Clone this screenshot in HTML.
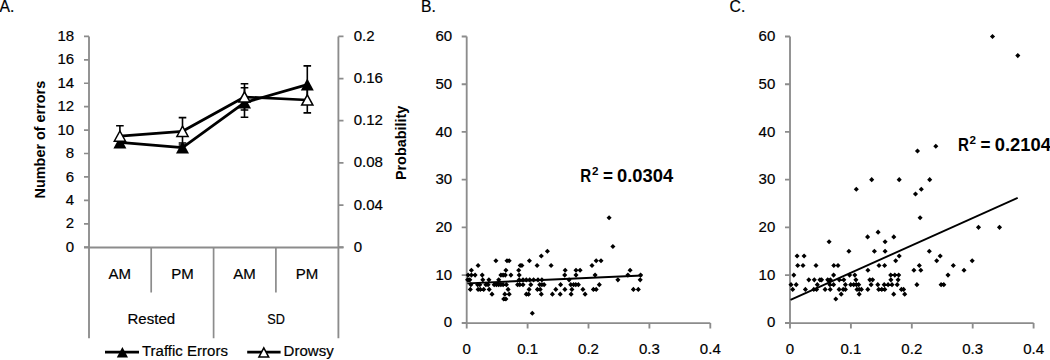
<!DOCTYPE html>
<html><head><meta charset="utf-8"><style>
html,body{margin:0;padding:0;background:#fff;width:1050px;height:360px;overflow:hidden}
svg{display:block}
.t{font-family:"Liberation Sans", sans-serif;font-size:15.5px;fill:#000;stroke:#000;stroke-width:0.2px}
.b{font-family:"Liberation Sans", sans-serif;font-size:14.4px;font-weight:bold;fill:#000}
.r{font-family:"Liberation Sans", sans-serif;font-size:18px;font-weight:bold;fill:#000}
.sup{font-size:10.6px}
.pl{font-size:16.6px}
</style></head><body>
<svg width="1050" height="360" viewBox="0 0 1050 360">
<path d="M89.0 36.4V338.3M338.4 36.4V338.3M84 247.5H343.5" stroke="#8c8c8c" stroke-width="1.85" fill="none"/>
<path d="M84 36.40H89.0M84 59.82H89.0M84 83.24H89.0M84 106.67H89.0M84 130.09H89.0M84 153.51H89.0M84 176.93H89.0M84 200.36H89.0M84 223.78H89.0M84 247.20H89.0M338.4 36.40H343.5M338.4 78.56H343.5M338.4 120.72H343.5M338.4 162.88H343.5M338.4 205.04H343.5M338.4 247.20H343.5M151.2 247.2V292.5M213.6 247.2V338.3M275.9 247.2V292.5" stroke="#8c8c8c" stroke-width="1.7" fill="none"/>
<text transform="translate(74.20 41.00) scale(0.97 1)" class="t" text-anchor="end">18</text>
<text transform="translate(74.20 64.42) scale(0.97 1)" class="t" text-anchor="end">16</text>
<text transform="translate(74.20 87.84) scale(0.97 1)" class="t" text-anchor="end">14</text>
<text transform="translate(74.20 111.27) scale(0.97 1)" class="t" text-anchor="end">12</text>
<text transform="translate(74.20 134.69) scale(0.97 1)" class="t" text-anchor="end">10</text>
<text transform="translate(74.20 158.11) scale(0.97 1)" class="t" text-anchor="end">8</text>
<text transform="translate(74.20 181.53) scale(0.97 1)" class="t" text-anchor="end">6</text>
<text transform="translate(74.20 204.96) scale(0.97 1)" class="t" text-anchor="end">4</text>
<text transform="translate(74.20 228.38) scale(0.97 1)" class="t" text-anchor="end">2</text>
<text transform="translate(74.20 251.80) scale(0.97 1)" class="t" text-anchor="end">0</text>
<text transform="translate(353.70 41.00) scale(0.97 1)" class="t">0.2</text>
<text transform="translate(353.70 83.16) scale(0.97 1)" class="t">0.16</text>
<text transform="translate(353.70 125.32) scale(0.97 1)" class="t">0.12</text>
<text transform="translate(353.70 167.48) scale(0.97 1)" class="t">0.08</text>
<text transform="translate(353.70 209.64) scale(0.97 1)" class="t">0.04</text>
<text transform="translate(353.70 251.80) scale(0.97 1)" class="t">0</text>
<text transform="translate(119.80 278.90) scale(0.97 1)" class="t" text-anchor="middle">AM</text>
<text transform="translate(182.40 278.90) scale(0.97 1)" class="t" text-anchor="middle">PM</text>
<text transform="translate(244.60 278.90) scale(0.97 1)" class="t" text-anchor="middle">AM</text>
<text transform="translate(307.00 278.90) scale(0.97 1)" class="t" text-anchor="middle">PM</text>
<text transform="translate(151.30 324.40) scale(0.97 1)" class="t" text-anchor="middle">Rested</text>
<text transform="translate(276.10 324.40) scale(0.82 1)" class="t" text-anchor="middle">SD</text>
<text transform="translate(45.2 139.6) rotate(-90)" class="b" text-anchor="middle">Number of errors</text>
<text transform="translate(405.6 142.9) rotate(-90)" class="b" text-anchor="middle">Probability</text>
<polyline points="119.9,142.4 182.5,147.6 244.5,102.6 307.3,84.6" fill="none" stroke="#000" stroke-width="2.75" stroke-linejoin="round"/>
<path d="M119.9 137.5V147.0M116.10000000000001 137.5H123.7M116.10000000000001 147.0H123.7" stroke="#000" stroke-width="1.6" fill="none"/>
<path d="M182.5 143.0V152.0M178.7 143.0H186.3M178.7 152.0H186.3" stroke="#000" stroke-width="1.6" fill="none"/>
<path d="M244.5 87.8V117.2M240.7 87.8H248.3M240.7 117.2H248.3" stroke="#000" stroke-width="1.6" fill="none"/>
<path d="M307.3 65.9V103.3M303.5 65.9H311.1M303.5 103.3H311.1" stroke="#000" stroke-width="1.6" fill="none"/>
<path d="M119.90 136.40L126.40 148.40L113.40 148.40Z" fill="#000"/>
<path d="M182.50 141.60L189.00 153.60L176.00 153.60Z" fill="#000"/>
<path d="M244.50 96.60L251.00 108.60L238.00 108.60Z" fill="#000"/>
<path d="M307.30 78.60L313.80 90.60L300.80 90.60Z" fill="#000"/>
<polyline points="119.9,136.1 182.5,131.3 244.5,97.0 307.3,100.0" fill="none" stroke="#000" stroke-width="2.75" stroke-linejoin="round"/>
<path d="M119.9 125.8V146.4M116.10000000000001 125.8H123.7M116.10000000000001 146.4H123.7" stroke="#000" stroke-width="1.6" fill="none"/>
<path d="M182.5 117.6V145.0M178.7 117.6H186.3M178.7 145.0H186.3" stroke="#000" stroke-width="1.6" fill="none"/>
<path d="M244.5 83.8V110.0M240.7 83.8H248.3M240.7 110.0H248.3" stroke="#000" stroke-width="1.6" fill="none"/>
<path d="M307.3 87.2V112.9M303.5 87.2H311.1M303.5 112.9H311.1" stroke="#000" stroke-width="1.6" fill="none"/>
<path d="M119.90 131.00L125.50 141.20L114.30 141.20Z" fill="#fff" stroke="#000" stroke-width="1.5" stroke-linejoin="miter"/>
<path d="M182.50 126.20L188.10 136.40L176.90 136.40Z" fill="#fff" stroke="#000" stroke-width="1.5" stroke-linejoin="miter"/>
<path d="M244.50 91.90L250.10 102.10L238.90 102.10Z" fill="#fff" stroke="#000" stroke-width="1.5" stroke-linejoin="miter"/>
<path d="M307.30 94.90L312.90 105.10L301.70 105.10Z" fill="#fff" stroke="#000" stroke-width="1.5" stroke-linejoin="miter"/>
<path d="M105 352.1H139M247.2 352.1H280.6" stroke="#000" stroke-width="2.8"/>
<path d="M122.40 347.00L128.00 357.60L116.80 357.60Z" fill="#000"/>
<path d="M263.80 347.90L268.70 357.10L258.90 357.10Z" fill="#fff" stroke="#000" stroke-width="1.5" stroke-linejoin="miter"/>
<text transform="translate(142.00 356.40) scale(0.97 1)" class="t">Traffic Errors</text>
<text transform="translate(283.60 356.40) scale(0.97 1)" class="t">Drowsy</text>
<text transform="translate(-0.60 11.80) scale(0.95 1)" class="t pl">A.</text>
<text transform="translate(421.00 11.90) scale(0.95 1)" class="t pl">B.</text>
<text transform="translate(729.60 12.20) scale(0.95 1)" class="t pl">C.</text>
<path d="M466.7 36.5V328.4M461.7 323.05H710.3M461.7 36.50H466.7M461.7 84.22H466.7M461.7 131.93H466.7M461.7 179.65H466.7M461.7 227.37H466.7M461.7 275.08H466.7M461.7 322.80H466.7M527.60 323.05V328.4M588.50 323.05V328.4M649.40 323.05V328.4M710.30 323.05V328.4" stroke="#8c8c8c" stroke-width="1.85" fill="none"/>
<text transform="translate(452.20 41.10) scale(0.97 1)" class="t" text-anchor="end">60</text>
<text transform="translate(452.20 88.82) scale(0.97 1)" class="t" text-anchor="end">50</text>
<text transform="translate(452.20 136.53) scale(0.97 1)" class="t" text-anchor="end">40</text>
<text transform="translate(452.20 184.25) scale(0.97 1)" class="t" text-anchor="end">30</text>
<text transform="translate(452.20 231.97) scale(0.97 1)" class="t" text-anchor="end">20</text>
<text transform="translate(452.20 279.68) scale(0.97 1)" class="t" text-anchor="end">10</text>
<text transform="translate(452.20 327.40) scale(0.97 1)" class="t" text-anchor="end">0</text>
<text transform="translate(466.70 354.40) scale(0.97 1)" class="t" text-anchor="middle">0</text>
<text transform="translate(527.60 354.40) scale(0.97 1)" class="t" text-anchor="middle">0.1</text>
<text transform="translate(588.50 354.40) scale(0.97 1)" class="t" text-anchor="middle">0.2</text>
<text transform="translate(649.40 354.40) scale(0.97 1)" class="t" text-anchor="middle">0.3</text>
<text transform="translate(710.30 354.40) scale(0.97 1)" class="t" text-anchor="middle">0.4</text>
<path d="M609.1 215.27l2.55 2.55l-2.55 2.55l-2.55 -2.55zM612.9 243.90l2.55 2.55l-2.55 2.55l-2.55 -2.55zM547.4 248.68l2.55 2.55l-2.55 2.55l-2.55 -2.55zM541.3 253.45l2.55 2.55l-2.55 2.55l-2.55 -2.55zM495.9 258.22l2.55 2.55l-2.55 2.55l-2.55 -2.55zM507.0 258.22l2.55 2.55l-2.55 2.55l-2.55 -2.55zM509.2 258.22l2.55 2.55l-2.55 2.55l-2.55 -2.55zM529.4 258.22l2.55 2.55l-2.55 2.55l-2.55 -2.55zM596.2 258.22l2.55 2.55l-2.55 2.55l-2.55 -2.55zM601.0 258.22l2.55 2.55l-2.55 2.55l-2.55 -2.55zM478.1 262.99l2.55 2.55l-2.55 2.55l-2.55 -2.55zM520.2 262.99l2.55 2.55l-2.55 2.55l-2.55 -2.55zM521.9 262.99l2.55 2.55l-2.55 2.55l-2.55 -2.55zM537.1 262.99l2.55 2.55l-2.55 2.55l-2.55 -2.55zM551.1 262.99l2.55 2.55l-2.55 2.55l-2.55 -2.55zM592.0 262.99l2.55 2.55l-2.55 2.55l-2.55 -2.55zM471.4 267.76l2.55 2.55l-2.55 2.55l-2.55 -2.55zM505.9 267.76l2.55 2.55l-2.55 2.55l-2.55 -2.55zM518.7 267.76l2.55 2.55l-2.55 2.55l-2.55 -2.55zM565.2 267.76l2.55 2.55l-2.55 2.55l-2.55 -2.55zM576.0 267.76l2.55 2.55l-2.55 2.55l-2.55 -2.55zM580.1 267.76l2.55 2.55l-2.55 2.55l-2.55 -2.55zM630.1 267.76l2.55 2.55l-2.55 2.55l-2.55 -2.55zM468.1 272.53l2.55 2.55l-2.55 2.55l-2.55 -2.55zM471.4 272.53l2.55 2.55l-2.55 2.55l-2.55 -2.55zM475.1 272.53l2.55 2.55l-2.55 2.55l-2.55 -2.55zM482.2 272.53l2.55 2.55l-2.55 2.55l-2.55 -2.55zM500.9 272.53l2.55 2.55l-2.55 2.55l-2.55 -2.55zM503.1 272.53l2.55 2.55l-2.55 2.55l-2.55 -2.55zM505.3 272.53l2.55 2.55l-2.55 2.55l-2.55 -2.55zM510.9 272.53l2.55 2.55l-2.55 2.55l-2.55 -2.55zM519.2 272.53l2.55 2.55l-2.55 2.55l-2.55 -2.55zM564.7 272.53l2.55 2.55l-2.55 2.55l-2.55 -2.55zM576.0 272.53l2.55 2.55l-2.55 2.55l-2.55 -2.55zM595.1 272.53l2.55 2.55l-2.55 2.55l-2.55 -2.55zM627.9 272.53l2.55 2.55l-2.55 2.55l-2.55 -2.55zM640.6 272.53l2.55 2.55l-2.55 2.55l-2.55 -2.55zM467.6 277.31l2.55 2.55l-2.55 2.55l-2.55 -2.55zM469.8 277.31l2.55 2.55l-2.55 2.55l-2.55 -2.55zM482.8 277.31l2.55 2.55l-2.55 2.55l-2.55 -2.55zM488.9 277.31l2.55 2.55l-2.55 2.55l-2.55 -2.55zM498.7 277.31l2.55 2.55l-2.55 2.55l-2.55 -2.55zM519.2 277.31l2.55 2.55l-2.55 2.55l-2.55 -2.55zM523.0 277.31l2.55 2.55l-2.55 2.55l-2.55 -2.55zM526.3 277.31l2.55 2.55l-2.55 2.55l-2.55 -2.55zM529.7 277.31l2.55 2.55l-2.55 2.55l-2.55 -2.55zM533.6 277.31l2.55 2.55l-2.55 2.55l-2.55 -2.55zM538.0 277.31l2.55 2.55l-2.55 2.55l-2.55 -2.55zM541.9 277.31l2.55 2.55l-2.55 2.55l-2.55 -2.55zM569.1 277.31l2.55 2.55l-2.55 2.55l-2.55 -2.55zM617.9 277.31l2.55 2.55l-2.55 2.55l-2.55 -2.55zM640.2 277.31l2.55 2.55l-2.55 2.55l-2.55 -2.55zM470.9 282.08l2.55 2.55l-2.55 2.55l-2.55 -2.55zM477.6 282.08l2.55 2.55l-2.55 2.55l-2.55 -2.55zM479.8 282.08l2.55 2.55l-2.55 2.55l-2.55 -2.55zM485.9 282.08l2.55 2.55l-2.55 2.55l-2.55 -2.55zM488.1 282.08l2.55 2.55l-2.55 2.55l-2.55 -2.55zM494.2 282.08l2.55 2.55l-2.55 2.55l-2.55 -2.55zM496.4 282.08l2.55 2.55l-2.55 2.55l-2.55 -2.55zM498.7 282.08l2.55 2.55l-2.55 2.55l-2.55 -2.55zM500.9 282.08l2.55 2.55l-2.55 2.55l-2.55 -2.55zM503.1 282.08l2.55 2.55l-2.55 2.55l-2.55 -2.55zM506.4 282.08l2.55 2.55l-2.55 2.55l-2.55 -2.55zM517.6 282.08l2.55 2.55l-2.55 2.55l-2.55 -2.55zM519.8 282.08l2.55 2.55l-2.55 2.55l-2.55 -2.55zM523.0 282.08l2.55 2.55l-2.55 2.55l-2.55 -2.55zM530.8 282.08l2.55 2.55l-2.55 2.55l-2.55 -2.55zM539.7 282.08l2.55 2.55l-2.55 2.55l-2.55 -2.55zM541.9 282.08l2.55 2.55l-2.55 2.55l-2.55 -2.55zM544.1 282.08l2.55 2.55l-2.55 2.55l-2.55 -2.55zM560.6 282.08l2.55 2.55l-2.55 2.55l-2.55 -2.55zM570.8 282.08l2.55 2.55l-2.55 2.55l-2.55 -2.55zM573.6 282.08l2.55 2.55l-2.55 2.55l-2.55 -2.55zM575.8 282.08l2.55 2.55l-2.55 2.55l-2.55 -2.55zM578.4 282.08l2.55 2.55l-2.55 2.55l-2.55 -2.55zM599.3 282.08l2.55 2.55l-2.55 2.55l-2.55 -2.55zM470.3 286.85l2.55 2.55l-2.55 2.55l-2.55 -2.55zM478.1 286.85l2.55 2.55l-2.55 2.55l-2.55 -2.55zM480.3 286.85l2.55 2.55l-2.55 2.55l-2.55 -2.55zM483.7 286.85l2.55 2.55l-2.55 2.55l-2.55 -2.55zM489.2 286.85l2.55 2.55l-2.55 2.55l-2.55 -2.55zM508.1 286.85l2.55 2.55l-2.55 2.55l-2.55 -2.55zM529.1 286.85l2.55 2.55l-2.55 2.55l-2.55 -2.55zM537.4 286.85l2.55 2.55l-2.55 2.55l-2.55 -2.55zM540.2 286.85l2.55 2.55l-2.55 2.55l-2.55 -2.55zM555.8 286.85l2.55 2.55l-2.55 2.55l-2.55 -2.55zM564.9 286.85l2.55 2.55l-2.55 2.55l-2.55 -2.55zM571.9 286.85l2.55 2.55l-2.55 2.55l-2.55 -2.55zM582.9 286.85l2.55 2.55l-2.55 2.55l-2.55 -2.55zM593.4 286.85l2.55 2.55l-2.55 2.55l-2.55 -2.55zM596.2 286.85l2.55 2.55l-2.55 2.55l-2.55 -2.55zM633.4 286.85l2.55 2.55l-2.55 2.55l-2.55 -2.55zM638.3 286.85l2.55 2.55l-2.55 2.55l-2.55 -2.55zM492.0 291.62l2.55 2.55l-2.55 2.55l-2.55 -2.55zM504.8 291.62l2.55 2.55l-2.55 2.55l-2.55 -2.55zM509.2 291.62l2.55 2.55l-2.55 2.55l-2.55 -2.55zM526.3 291.62l2.55 2.55l-2.55 2.55l-2.55 -2.55zM528.6 291.62l2.55 2.55l-2.55 2.55l-2.55 -2.55zM541.3 291.62l2.55 2.55l-2.55 2.55l-2.55 -2.55zM552.4 291.62l2.55 2.55l-2.55 2.55l-2.55 -2.55zM560.2 291.62l2.55 2.55l-2.55 2.55l-2.55 -2.55zM571.1 291.62l2.55 2.55l-2.55 2.55l-2.55 -2.55zM585.1 291.62l2.55 2.55l-2.55 2.55l-2.55 -2.55zM503.7 296.39l2.55 2.55l-2.55 2.55l-2.55 -2.55zM505.9 296.39l2.55 2.55l-2.55 2.55l-2.55 -2.55zM532.3 310.71l2.55 2.55l-2.55 2.55l-2.55 -2.55z" fill="#000"/>
<path d="M467.3 283.4L642.2 275.5" stroke="#000" stroke-width="1.9"/>
<text transform="translate(580.3 182.1) scale(0.84 1.02)" class="r">R</text>
<text transform="translate(591.9 174.5) scale(1.1 1)" class="r sup">2</text>
<text transform="translate(602.9 182.1) scale(0.95 1)" class="r">=</text>
<text transform="translate(617.0 182.1) scale(1.02 1.02)" class="r">0.0304</text>
<path d="M790.0 36.5V328.4M785.0 323.05H1033.6M785.0 36.50H790.0M785.0 84.22H790.0M785.0 131.93H790.0M785.0 179.65H790.0M785.0 227.37H790.0M785.0 275.08H790.0M785.0 322.80H790.0M850.90 323.05V328.4M911.80 323.05V328.4M972.70 323.05V328.4M1033.60 323.05V328.4" stroke="#8c8c8c" stroke-width="1.85" fill="none"/>
<text transform="translate(775.30 41.10) scale(0.97 1)" class="t" text-anchor="end">60</text>
<text transform="translate(775.30 88.82) scale(0.97 1)" class="t" text-anchor="end">50</text>
<text transform="translate(775.30 136.53) scale(0.97 1)" class="t" text-anchor="end">40</text>
<text transform="translate(775.30 184.25) scale(0.97 1)" class="t" text-anchor="end">30</text>
<text transform="translate(775.30 231.97) scale(0.97 1)" class="t" text-anchor="end">20</text>
<text transform="translate(775.30 279.68) scale(0.97 1)" class="t" text-anchor="end">10</text>
<text transform="translate(775.30 327.40) scale(0.97 1)" class="t" text-anchor="end">0</text>
<text transform="translate(790.00 354.40) scale(0.97 1)" class="t" text-anchor="middle">0</text>
<text transform="translate(850.90 354.40) scale(0.97 1)" class="t" text-anchor="middle">0.1</text>
<text transform="translate(911.80 354.40) scale(0.97 1)" class="t" text-anchor="middle">0.2</text>
<text transform="translate(972.70 354.40) scale(0.97 1)" class="t" text-anchor="middle">0.3</text>
<text transform="translate(1033.60 354.40) scale(0.97 1)" class="t" text-anchor="middle">0.4</text>
<path d="M992.5 33.95l2.55 2.55l-2.55 2.55l-2.55 -2.55zM1017.8 53.04l2.55 2.55l-2.55 2.55l-2.55 -2.55zM935.8 143.70l2.55 2.55l-2.55 2.55l-2.55 -2.55zM917.5 148.47l2.55 2.55l-2.55 2.55l-2.55 -2.55zM871.7 177.10l2.55 2.55l-2.55 2.55l-2.55 -2.55zM899.2 177.10l2.55 2.55l-2.55 2.55l-2.55 -2.55zM929.7 177.10l2.55 2.55l-2.55 2.55l-2.55 -2.55zM856.3 186.64l2.55 2.55l-2.55 2.55l-2.55 -2.55zM921.3 186.64l2.55 2.55l-2.55 2.55l-2.55 -2.55zM915.5 191.41l2.55 2.55l-2.55 2.55l-2.55 -2.55zM920.1 215.27l2.55 2.55l-2.55 2.55l-2.55 -2.55zM978.5 224.82l2.55 2.55l-2.55 2.55l-2.55 -2.55zM999.5 224.82l2.55 2.55l-2.55 2.55l-2.55 -2.55zM878.1 229.59l2.55 2.55l-2.55 2.55l-2.55 -2.55zM867.6 234.36l2.55 2.55l-2.55 2.55l-2.55 -2.55zM893.8 234.36l2.55 2.55l-2.55 2.55l-2.55 -2.55zM829.1 239.13l2.55 2.55l-2.55 2.55l-2.55 -2.55zM885.1 239.13l2.55 2.55l-2.55 2.55l-2.55 -2.55zM848.9 248.68l2.55 2.55l-2.55 2.55l-2.55 -2.55zM874.4 248.68l2.55 2.55l-2.55 2.55l-2.55 -2.55zM885.1 248.68l2.55 2.55l-2.55 2.55l-2.55 -2.55zM929.3 248.68l2.55 2.55l-2.55 2.55l-2.55 -2.55zM797.1 253.45l2.55 2.55l-2.55 2.55l-2.55 -2.55zM804.1 253.45l2.55 2.55l-2.55 2.55l-2.55 -2.55zM899.2 253.45l2.55 2.55l-2.55 2.55l-2.55 -2.55zM940.2 253.45l2.55 2.55l-2.55 2.55l-2.55 -2.55zM895.7 258.22l2.55 2.55l-2.55 2.55l-2.55 -2.55zM936.7 258.22l2.55 2.55l-2.55 2.55l-2.55 -2.55zM972.2 258.22l2.55 2.55l-2.55 2.55l-2.55 -2.55zM797.7 262.99l2.55 2.55l-2.55 2.55l-2.55 -2.55zM803.0 262.99l2.55 2.55l-2.55 2.55l-2.55 -2.55zM816.0 262.99l2.55 2.55l-2.55 2.55l-2.55 -2.55zM833.8 262.99l2.55 2.55l-2.55 2.55l-2.55 -2.55zM838.0 262.99l2.55 2.55l-2.55 2.55l-2.55 -2.55zM879.0 262.99l2.55 2.55l-2.55 2.55l-2.55 -2.55zM884.6 262.99l2.55 2.55l-2.55 2.55l-2.55 -2.55zM919.3 262.99l2.55 2.55l-2.55 2.55l-2.55 -2.55zM953.3 262.99l2.55 2.55l-2.55 2.55l-2.55 -2.55zM867.9 267.76l2.55 2.55l-2.55 2.55l-2.55 -2.55zM913.9 267.76l2.55 2.55l-2.55 2.55l-2.55 -2.55zM920.8 267.76l2.55 2.55l-2.55 2.55l-2.55 -2.55zM964.0 267.76l2.55 2.55l-2.55 2.55l-2.55 -2.55zM793.8 272.53l2.55 2.55l-2.55 2.55l-2.55 -2.55zM833.6 272.53l2.55 2.55l-2.55 2.55l-2.55 -2.55zM849.6 272.53l2.55 2.55l-2.55 2.55l-2.55 -2.55zM854.8 272.53l2.55 2.55l-2.55 2.55l-2.55 -2.55zM890.7 272.53l2.55 2.55l-2.55 2.55l-2.55 -2.55zM894.8 272.53l2.55 2.55l-2.55 2.55l-2.55 -2.55zM898.7 272.53l2.55 2.55l-2.55 2.55l-2.55 -2.55zM948.0 272.53l2.55 2.55l-2.55 2.55l-2.55 -2.55zM808.8 277.31l2.55 2.55l-2.55 2.55l-2.55 -2.55zM814.3 277.31l2.55 2.55l-2.55 2.55l-2.55 -2.55zM819.9 277.31l2.55 2.55l-2.55 2.55l-2.55 -2.55zM821.6 277.31l2.55 2.55l-2.55 2.55l-2.55 -2.55zM827.7 277.31l2.55 2.55l-2.55 2.55l-2.55 -2.55zM830.4 277.31l2.55 2.55l-2.55 2.55l-2.55 -2.55zM839.3 277.31l2.55 2.55l-2.55 2.55l-2.55 -2.55zM843.8 277.31l2.55 2.55l-2.55 2.55l-2.55 -2.55zM855.9 277.31l2.55 2.55l-2.55 2.55l-2.55 -2.55zM869.8 277.31l2.55 2.55l-2.55 2.55l-2.55 -2.55zM872.6 277.31l2.55 2.55l-2.55 2.55l-2.55 -2.55zM890.9 277.31l2.55 2.55l-2.55 2.55l-2.55 -2.55zM898.1 277.31l2.55 2.55l-2.55 2.55l-2.55 -2.55zM791.0 282.08l2.55 2.55l-2.55 2.55l-2.55 -2.55zM796.2 282.08l2.55 2.55l-2.55 2.55l-2.55 -2.55zM817.3 282.08l2.55 2.55l-2.55 2.55l-2.55 -2.55zM829.9 282.08l2.55 2.55l-2.55 2.55l-2.55 -2.55zM833.6 282.08l2.55 2.55l-2.55 2.55l-2.55 -2.55zM845.4 282.08l2.55 2.55l-2.55 2.55l-2.55 -2.55zM850.7 282.08l2.55 2.55l-2.55 2.55l-2.55 -2.55zM853.7 282.08l2.55 2.55l-2.55 2.55l-2.55 -2.55zM856.4 282.08l2.55 2.55l-2.55 2.55l-2.55 -2.55zM858.7 282.08l2.55 2.55l-2.55 2.55l-2.55 -2.55zM871.1 282.08l2.55 2.55l-2.55 2.55l-2.55 -2.55zM877.8 282.08l2.55 2.55l-2.55 2.55l-2.55 -2.55zM884.2 282.08l2.55 2.55l-2.55 2.55l-2.55 -2.55zM888.1 282.08l2.55 2.55l-2.55 2.55l-2.55 -2.55zM892.0 282.08l2.55 2.55l-2.55 2.55l-2.55 -2.55zM897.2 282.08l2.55 2.55l-2.55 2.55l-2.55 -2.55zM916.9 282.08l2.55 2.55l-2.55 2.55l-2.55 -2.55zM941.1 282.08l2.55 2.55l-2.55 2.55l-2.55 -2.55zM943.8 282.08l2.55 2.55l-2.55 2.55l-2.55 -2.55zM792.7 286.85l2.55 2.55l-2.55 2.55l-2.55 -2.55zM805.4 286.85l2.55 2.55l-2.55 2.55l-2.55 -2.55zM813.8 286.85l2.55 2.55l-2.55 2.55l-2.55 -2.55zM816.6 286.85l2.55 2.55l-2.55 2.55l-2.55 -2.55zM825.1 286.85l2.55 2.55l-2.55 2.55l-2.55 -2.55zM830.2 286.85l2.55 2.55l-2.55 2.55l-2.55 -2.55zM839.1 286.85l2.55 2.55l-2.55 2.55l-2.55 -2.55zM843.2 286.85l2.55 2.55l-2.55 2.55l-2.55 -2.55zM845.4 286.85l2.55 2.55l-2.55 2.55l-2.55 -2.55zM857.0 286.85l2.55 2.55l-2.55 2.55l-2.55 -2.55zM859.2 286.85l2.55 2.55l-2.55 2.55l-2.55 -2.55zM861.4 286.85l2.55 2.55l-2.55 2.55l-2.55 -2.55zM867.8 286.85l2.55 2.55l-2.55 2.55l-2.55 -2.55zM878.7 286.85l2.55 2.55l-2.55 2.55l-2.55 -2.55zM881.8 286.85l2.55 2.55l-2.55 2.55l-2.55 -2.55zM884.8 286.85l2.55 2.55l-2.55 2.55l-2.55 -2.55zM901.4 286.85l2.55 2.55l-2.55 2.55l-2.55 -2.55zM903.6 286.85l2.55 2.55l-2.55 2.55l-2.55 -2.55zM841.2 291.62l2.55 2.55l-2.55 2.55l-2.55 -2.55zM859.2 291.62l2.55 2.55l-2.55 2.55l-2.55 -2.55zM893.7 291.62l2.55 2.55l-2.55 2.55l-2.55 -2.55zM904.7 291.62l2.55 2.55l-2.55 2.55l-2.55 -2.55zM835.8 296.39l2.55 2.55l-2.55 2.55l-2.55 -2.55z" fill="#000"/>
<path d="M790.5 299.9L1017.7 197.8" stroke="#000" stroke-width="1.9"/>
<text transform="translate(958.0 151.3) scale(0.84 1.02)" class="r">R</text>
<text transform="translate(969.6 143.70000000000002) scale(1.1 1)" class="r sup">2</text>
<text transform="translate(980.6 151.3) scale(0.95 1)" class="r">=</text>
<text transform="translate(994.7 151.3) scale(1.02 1.02)" class="r">0.2104</text>
</svg>
</body></html>
